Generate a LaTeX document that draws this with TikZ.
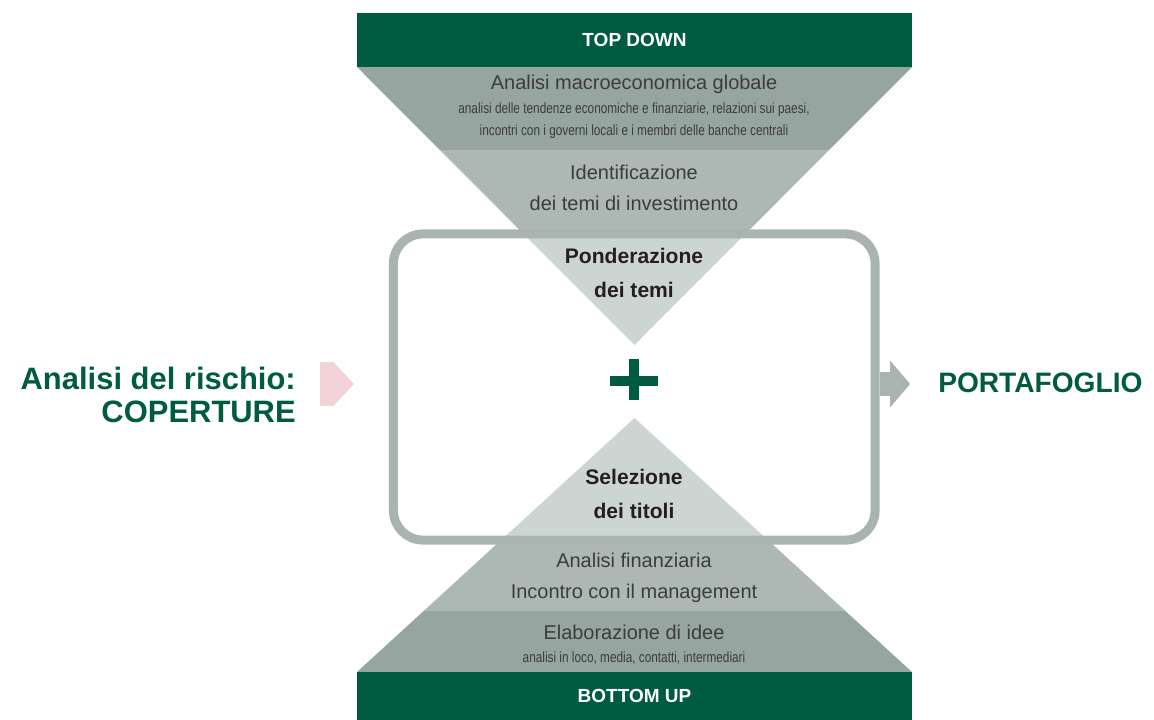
\documentclass[tikz,border=0pt]{standalone}
\usepackage{fontspec}
\setmainfont{Liberation Sans}
\newfontfamily\condfont[FakeStretch=0.8]{Liberation Sans}
\usetikzlibrary{arrows.meta}
\definecolor{dkgreen}{RGB}{0,91,65}
\definecolor{banddark}{RGB}{150,165,160}
\definecolor{bandmid}{RGB}{173,184,181}
\definecolor{bandlight}{RGB}{205,213,211}
\definecolor{framegray}{RGB}{169,180,177}
\definecolor{pinkarrow}{RGB}{242,212,216}
\definecolor{txtgray}{RGB}{60,60,60}
\definecolor{txtdark}{RGB}{35,31,32}

\begin{document}
\begin{tikzpicture}
        [x=0.025cm,y=-0.025cm,
         bar/.style={fill=dkgreen,text=white,font=\bfseries\fontsize{13.5}{16}\selectfont,minimum width=394.8pt,inner sep=0pt},
         lbl/.style={text=txtgray,align=center,font=\fontsize{14.2}{22}\selectfont,inner sep=0pt},
         sub/.style={text=txtgray,align=center,font=\condfont\fontsize{10.5}{15.6}\selectfont,inner sep=0pt},
         key/.style={text=txtdark,align=center,font=\bfseries\fontsize{15}{24}\selectfont,inner sep=0pt},
         big/.style={text=dkgreen,font=\bfseries\fontsize{22}{24}\selectfont,inner sep=0pt},
         loopbox/.style={draw=framegray,line width=6.4pt,rounded corners=21pt,inner sep=0pt},
         pinkarr/.style={pinkarrow,line width=32pt,shorten <=17.1pt,shorten >=24.9pt,-{Triangle[length=14.9pt,width=32pt,line width=0pt]}},
         grayarr/.style={framegray,line width=16.4pt,shorten >=19.9pt,-{Triangle[length=14.2pt,width=33.4pt,line width=0pt]}}]
        \useasboundingbox (0,0) rectangle (1154,720);
        \begin{scope}
            \clip (357,67) -- (912,67) -- (634.5,345) -- cycle;
            \fill[banddark] (357,67) rectangle (912,150);
            \fill[bandmid] (357,150) rectangle (912,236);
            \fill[bandlight] (357,236) rectangle (912,345);
        \end{scope}
        \begin{scope}
            \clip (634.5,418) -- (912,672) -- (357,672) -- cycle;
            \fill[bandlight] (357,418) rectangle (912,540);
            \fill[bandmid] (357,540) rectangle (912,611);
            \fill[banddark] (357,611) rectangle (912,672);
        \end{scope}
        \node[loopbox,minimum width=342.5pt,minimum height=217.7pt](loop) at (634.25,387) {};
        \node[bar,minimum height=38.4pt](top) at (634.5,40) {TOP DOWN};
        \node[bar,minimum height=34.1pt](bot) at (634.5,696) {BOTTOM UP};
        \node[lbl](macro) at (634,84) {Analisi macroeconomica globale};
        \node[sub](macrosub) at (634,121) {analisi delle tendenze economiche e finanziarie, relazioni sui paesi,\\incontri con i governi locali e i membri delle banche centrali};
        \node[lbl](temi) at (634,188) {Identificazione\\dei temi di investimento};
        \node[key](pond) at (634,273) {Ponderazione\\dei temi};
        \node[key](sel) at (634,494) {Selezione\\dei titoli};
        \node[lbl](fin) at (634,578) {Analisi finanziaria\\Incontro con il management};
        \node[lbl](idee) at (634,632) {Elaborazione di idee};
        \node[sub](ideesub) at (634,658) {analisi in loco, media, contatti, intermediari};
        \node[big,align=right,anchor=east](risk) at (296,395) {Analisi del rischio:\\COPERTURE};
        \node[big,font=\bfseries\fontsize{20}{24}\selectfont,anchor=west](port) at (938,383) {PORTAFOGLIO};
        \coordinate (axis) at (634,384);
        \draw[dkgreen,line width=7.1pt] (axis) +(-24,-3) -- +(24,-3)
                                        (axis) +(0,-25) -- +(0,16);
        \draw[pinkarr] (risk.east |- axis) -- (loop.west |- axis);
        \draw[grayarr] (loop.east |- axis) -- (port.west |- axis);
    \end{tikzpicture}
\end{document}
